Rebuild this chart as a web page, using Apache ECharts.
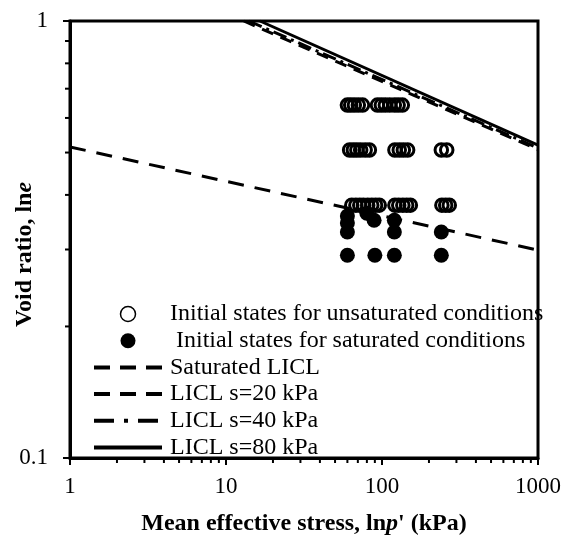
<!DOCTYPE html>
<html>
<head>
<meta charset="utf-8">
<script src="https://cdn.jsdelivr.net/npm/echarts@6/dist/echarts.min.js"></script>
<style>html,body{margin:0;padding:0;background:#fff;}#c{width:567px;height:535px;}</style>
</head>
<body>
<div id="c"></div>
<script>
// ---- data ----
const unsatRowVoid = [0.642, 0.507, 0.379];
const unsatRowStress = [
  [60, 63, 66.5, 70.5, 75, 93.5, 99, 105, 112, 120, 127, 135],
  [62, 65.5, 69, 73, 78, 83, 121, 129, 137, 146, 240, 260],
  [64, 68, 72, 76, 81, 86, 91, 96, 121, 128, 136, 144, 152, 242, 256, 270]
];
const satStress = [60, 90, 120, 240, 60, 120, 240, 60, 60, 80, 89, 120];
const satVoid   = [0.291, 0.291, 0.291, 0.291, 0.329, 0.329, 0.329, 0.358, 0.345, 0.363, 0.350, 0.350];
const licl0  = [[1, 0.515], [1000, 0.299]];
const licl20 = [[13, 1], [1000, 0.508]];
const licl40 = [[14, 1], [1000, 0.512]];
const licl80 = [[16.5, 1], [1000, 0.52]];
const xMinorTicks = [2,3,4,5,6,7,8,9,20,30,40,50,60,70,80,90,200,300,400,500,600,700,800,900];
const yMinorTicks = [0.2,0.3,0.4,0.5,0.6,0.7,0.8,0.9];
const xTickLabels = ['1', '10', '100', '1000'];
const yTickLabels = ['0.1', '1'];

const FONT = "'Liberation Serif', 'Times New Roman', serif";
const unsatData = [];
unsatRowStress.forEach((row, i) => row.forEach(p => unsatData.push([p, unsatRowVoid[i]])));
const satData = satStress.map((p, i) => [p, satVoid[i]]);
const hiddenDot = { color: 'rgba(0,0,0,0)', borderWidth: 0, opacity: 0 };
const titleRich = {
  b: { fontSize: 24, fontWeight: 'bold', fontFamily: FONT, color: '#000' },
  bi: { fontSize: 24, fontWeight: 'bold', fontStyle: 'italic', fontFamily: FONT, color: '#000' },
  sp: { width: 30, fontSize: 24 }
};

const chart = echarts.init(document.getElementById('c'));
chart.setOption({
  animation: false,
  backgroundColor: '#fff',
  grid: { left: 70, right: 29, top: 21, bottom: 77, containLabel: false, outerBoundsMode: 'none',
    show: true, borderColor: '#000', borderWidth: 3, backgroundColor: 'transparent' },
  xAxis: {
    type: 'log', logBase: 10, min: 1, max: 1000,
    axisLine: { show: true, lineStyle: { color: '#000', width: 3 } },
    axisTick: { show: true, length: 7, lineStyle: { color: '#000', width: 2 } },
    splitLine: { show: false },
    axisLabel: { color: '#000', fontSize: 23, fontFamily: FONT, margin: 17,
      formatter: v => xTickLabels.find(t => Math.abs(Number(t) - v) < 1e-6) || '' },
    name: '{b|Mean effective stress, ln}{bi|p}{b|\' (kPa)}',
    nameLocation: 'middle', nameGap: 54, nameMoveOverlap: false,
    nameTextStyle: { rich: titleRich }
  },
  yAxis: {
    type: 'log', logBase: 10, min: 0.1, max: 1,
    axisLine: { show: true, lineStyle: { color: '#000', width: 3 } },
    axisTick: { show: true, length: 7, lineStyle: { color: '#000', width: 2 } },
    splitLine: { show: false },
    axisLabel: { color: '#000', fontSize: 23, fontFamily: FONT, margin: 22,
      formatter: v => yTickLabels.find(t => Math.abs(Number(t) - v) < 1e-9) || '' },
    name: '{b|Void ratio, ln}{bi|e}{sp| }',
    nameLocation: 'middle', nameGap: 33, nameRotate: 90, nameMoveOverlap: false,
    nameTextStyle: { rich: titleRich }
  },
  legend: {
    orient: 'vertical', left: 92, top: 302, padding: 0, itemWidth: 68, itemHeight: 15, itemGap: 2.7,
    selectedMode: false,
    textStyle: { fontSize: 24, fontFamily: FONT, color: '#000', lineHeight: 24, padding: [0, 0, 0, 3] },
    data: [
      { name: 'Initial states for unsaturated conditions', icon: 'circle', itemStyle: { color: '#fff', borderColor: '#000', borderWidth: 1.5 } },
      { name: ' Initial states for saturated conditions', icon: 'circle', itemStyle: { color: '#000', borderWidth: 0 } },
      { name: 'Saturated LICL', itemStyle: hiddenDot, lineStyle: { width: 4, type: [16, 10] } },
      { name: 'LICL s=20 kPa', itemStyle: hiddenDot, lineStyle: { width: 4, type: [16, 10] } },
      { name: 'LICL s=40 kPa', itemStyle: hiddenDot, lineStyle: { width: 4, type: [20, 10, 4, 10] } },
      { name: 'LICL s=80 kPa', itemStyle: hiddenDot, lineStyle: { width: 4, type: 'solid' } }
    ]
  },
  series: [
    { name: 'Saturated LICL', type: 'line', data: licl0, symbol: 'none',
      lineStyle: { color: '#000', width: 3, type: [16, 11] } },
    { name: 'LICL s=20 kPa', type: 'line', data: licl20, symbol: 'none',
      lineStyle: { color: '#000', width: 3, type: [12, 8] } },
    { name: 'LICL s=40 kPa', type: 'line', data: licl40, symbol: 'none',
      lineStyle: { color: '#000', width: 3, type: [14, 5, 3, 5] } },
    { name: 'LICL s=80 kPa', type: 'line', data: licl80, symbol: 'none',
      lineStyle: { color: '#000', width: 3, type: 'solid' } },
    { name: 'Initial states for unsaturated conditions', type: 'scatter', data: unsatData, symbol: 'circle', symbolSize: 12.5,
      itemStyle: { color: 'transparent', borderColor: '#000', borderWidth: 3, opacity: 1 } },
    { name: ' Initial states for saturated conditions', type: 'scatter', data: satData, symbol: 'circle', symbolSize: 15,
      itemStyle: { color: '#000', opacity: 1 } },
    { name: 'xMinor', type: 'custom', silent: true, clip: false, data: xMinorTicks.map(v => [v, 0.1]),
      renderItem: (params, api) => {
        const pt = api.coord([api.value(0), api.value(1)]);
        return { type: 'line', shape: { x1: pt[0], y1: pt[1], x2: pt[0], y2: pt[1] + 5 }, style: { stroke: '#000', lineWidth: 2 } };
      } },
    { name: 'yMinor', type: 'custom', silent: true, clip: false, data: yMinorTicks.map(v => [1, v]),
      renderItem: (params, api) => {
        const pt = api.coord([api.value(0), api.value(1)]);
        return { type: 'line', shape: { x1: pt[0], y1: pt[1], x2: pt[0] - 5, y2: pt[1] }, style: { stroke: '#000', lineWidth: 2 } };
      } }
  ]
});
</script>
</body>
</html>
